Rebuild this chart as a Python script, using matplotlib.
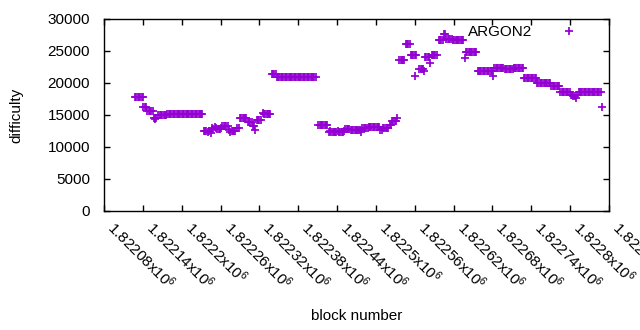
import matplotlib
matplotlib.use("Agg")
import matplotlib.pyplot as plt
import numpy as np
from matplotlib.ticker import FixedLocator, FuncFormatter

plt.rcParams['font.family'] = ['Liberation Sans', 'DejaVu Sans']
plt.rcParams['mathtext.fontset'] = 'custom'
plt.rcParams['mathtext.rm'] = 'Liberation Sans'
plt.rcParams['mathtext.default'] = 'regular'

# block numbers are 1822000 + offset
base_block = 1822000
block_offset = [
    128, 130, 132, 134, 136, 138, 140,
    141, 143, 145,
    147, 149, 151, 153, 155,
    157, 159, 161,
    164, 166, 168, 170, 172, 174, 176,
    178, 180, 182, 184, 186, 188, 190, 192, 194, 196, 198, 200, 202, 204,
    206, 208, 210, 212, 214, 216, 218, 220, 222, 224, 226, 228, 230, 232,
    234, 236, 238, 240, 242,
    245, 247,
    249, 251, 253, 255, 257, 259, 261,
    263, 265, 267, 269, 271,
    273, 275, 277, 279, 281, 283,
    286, 288,
    290, 292, 294, 296, 298, 300,
    302, 304, 306, 308,
    310, 312, 313,
    316, 318, 320, 322,
    325, 327, 329, 331, 333, 335, 337,
    339, 341, 343, 345,
    347, 349, 351, 353, 355, 357, 359, 361, 363, 365, 367, 369, 371, 373, 375, 377,
    379, 381, 383, 385, 387, 389, 391, 393, 395, 397, 399, 401, 403, 405, 407,
    411, 413, 415, 417, 419, 421, 423, 425,
    427, 429, 431, 433, 435, 437, 439, 441, 443, 445, 447, 449, 451,
    453, 455, 457, 459,
    461, 463, 465, 467, 469, 471, 473, 475, 477,
    479, 481, 483, 485, 487,
    489, 491, 493, 495, 497, 499, 501, 503, 505,
    507, 509, 511, 513, 515, 517, 519,
    521, 523,
    525, 527, 529, 531, 533,
    536, 538, 540, 542, 544,
    546, 548, 550, 552,
    554, 556, 558, 560, 562,
    561,
    567, 569, 571, 573, 575,
    576, 578, 580, 582, 584,
    586, 588, 590, 592, 594,
    597, 599, 601, 603, 605, 607,
    609, 611, 613, 615, 617, 619, 621, 623, 625, 627, 629, 631, 633, 635,
    637,
    639, 641, 643, 645, 647, 649, 651, 653, 655,
    657, 659, 661, 663, 665, 667, 669, 671, 673, 675, 677, 679, 681,
    683, 685, 687, 689, 691, 693, 695, 697,
    699, 701, 703, 705, 707, 709, 711,
    713, 715, 717, 719, 721, 723, 725, 727,
    729, 731, 733, 735, 737, 739, 741, 743, 745, 747,
    749, 751, 753, 755, 757, 759, 761, 763, 765, 767, 769,
    771, 773, 775, 777, 779, 781, 783,
    785, 787, 789, 791, 793, 795, 797, 799,
    801, 803, 805, 807, 809, 811,
    813, 815, 817, 819, 821, 823, 825, 827, 829, 831, 833, 835, 837, 839,
    841, 843, 845, 847,
    849,
]
difficulty = [
    17750, 17750, 17750, 17750, 17750, 17750, 17750,
    16300, 16300, 16300,
    15600, 15600, 15600, 15600, 15600,
    14500, 14300, 14600,
    14950, 14950, 14950, 14950, 14950, 14950, 14950,
    15100, 15100, 15100, 15100, 15100, 15100, 15100, 15100, 15100, 15100, 15100, 15100, 15100, 15100,
    15100, 15100, 15100, 15100, 15100, 15100, 15100, 15100, 15100, 15100, 15100, 15100, 15100, 15100,
    12450, 12550, 12500, 12400, 12500,
    12150, 13000,
    12850, 13050, 12900, 12750, 12800, 12850, 12900,
    13250, 13250, 13250, 13250, 13250,
    12600, 12350, 12450, 12500, 12550, 12500,
    12900, 12900,
    14500, 14500, 14500, 14500, 14500, 14500,
    13900, 13900, 13900, 13900,
    13300, 13300, 12700,
    14200, 14200, 14200, 14200,
    15300, 15100, 15100, 15100, 15100, 15100, 15100,
    21350, 21350, 21350, 21350,
    20900, 20900, 20900, 20900, 20900, 20900, 20900, 20900, 20900, 20900, 20900, 20900, 20900, 20900, 20900, 20900,
    20900, 20900, 20900, 20900, 20900, 20900, 20900, 20900, 20900, 20900, 20900, 20900, 20900, 20900, 20900,
    13400, 13400, 13400, 13400, 13400, 13400, 13400, 13400,
    12350, 12450, 12350, 12350, 12300, 12350, 12350, 12450, 12350, 12350, 12300, 12350, 12450,
    12850, 12850, 12850, 12850,
    12650, 12650, 12650, 12650, 12650, 12650, 12650, 12650, 12300,
    12900, 12900, 12900, 12900, 12900,
    13080, 13080, 13080, 13080, 13080, 13080, 13080, 13080, 13080,
    12600, 12600, 12900, 12900, 12900, 12900, 12900,
    13500, 13500,
    14100, 14100, 14100, 14100, 14600,
    23550, 23550, 23550, 23550, 23550,
    26150, 26150, 26150, 26150,
    24400, 24400, 24400, 24400, 24400,
    21050,
    22150, 22150, 22150, 22150, 21800,
    24000, 24000, 24000, 24000, 23200,
    24450, 24450, 24450, 24450, 24450,
    26750, 26750, 26750, 26750, 27650, 27650,
    26850, 26850, 26800, 26800, 26800, 26750, 26750, 26750, 26700, 26700, 26700, 26650, 26650, 26650,
    23900,
    24800, 24800, 24800, 24800, 24800, 24800, 24800, 24800, 24800,
    21900, 21900, 21900, 21900, 21900, 21900, 21900, 21900, 21900, 21900, 21900, 21900, 21100,
    22400, 22400, 22400, 22400, 22400, 22400, 22400, 22400,
    22150, 22150, 22150, 22150, 22150, 22150, 22150,
    22400, 22400, 22400, 22400, 22400, 22400, 22400, 22400,
    20800, 20800, 20800, 20800, 20800, 20800, 20800, 20800, 20800, 20800,
    19950, 19950, 19950, 19950, 19950, 19950, 19950, 19950, 19950, 19950, 19950,
    19500, 19500, 19500, 19500, 19500, 19500, 19500,
    18550, 18550, 18550, 18550, 18550, 18550, 18550, 18550,
    18200, 18100, 18000, 17950, 17700, 18100,
    18550, 18550, 18550, 18550, 18550, 18550, 18550, 18550, 18550, 18550, 18550, 18550, 18550, 18550,
    18550, 18550, 18550, 18550,
    16300,
]
x_ticks = [1822080, 1822140, 1822200, 1822260, 1822320, 1822380, 1822440,
           1822500, 1822560, 1822620, 1822680, 1822740, 1822800, 1822860]
y_ticks = [0, 5000, 10000, 15000, 20000, 25000, 30000]

blocks = base_block + np.array(block_offset)

fig = plt.figure(figsize=(6.4, 3.3), dpi=100)
ax = fig.add_axes([104 / 640, 1 - 211 / 330, 505 / 640, 192 / 330])

ax.plot(blocks, difficulty, linestyle='none', marker='+', ms=5.2, mew=1.25,
        color='#9400d3', label='ARGON2')

ax.set_xlim(x_ticks[0], x_ticks[-1])
ax.set_ylim(y_ticks[0], y_ticks[-1])
ax.xaxis.set_major_locator(FixedLocator(x_ticks))
ax.yaxis.set_major_locator(FixedLocator(y_ticks))
ax.xaxis.set_major_formatter(FuncFormatter(lambda v, p: '%gx10$^{6}$' % (v / 1e6)))
ax.yaxis.set_major_formatter(FuncFormatter(lambda v, p: '%d' % v))

ax.tick_params(direction='in', length=4, width=1, top=True, right=True,
               labelsize=11, colors='black')
ax.tick_params(axis='y', pad=10)
ax.tick_params(axis='x', pad=5)
for lab in ax.get_xticklabels():
    lab.set_rotation(-45)
    lab.set_ha('left')
    lab.set_va('top')
    lab.set_rotation_mode('default')
for s in ax.spines.values():
    s.set_linewidth(1)

ax.set_xlabel('block number', fontsize=11)
ax.set_ylabel('difficulty', fontsize=11)
ax.xaxis.set_label_coords(0.5, -0.51)
ax.yaxis.set_label_coords(-0.16, 0.5)

ax.legend(loc='upper right', bbox_to_anchor=(0.981, 0.969), markerfirst=False,
          frameon=False, fontsize=11, handlelength=4, handletextpad=0.4,
          borderaxespad=0, borderpad=0, markerscale=1.0)

fig.savefig('out.png', dpi=100)
